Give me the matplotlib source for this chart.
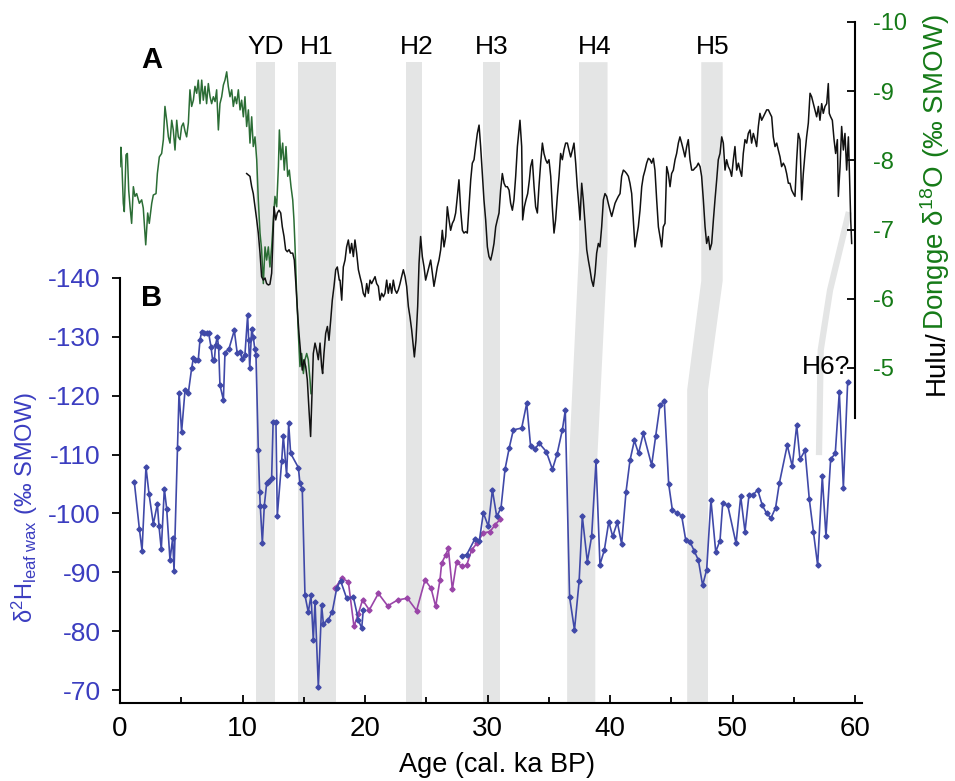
import numpy as np
import matplotlib
matplotlib.use("Agg")
import matplotlib.pyplot as plt

plt.rcParams['font.family'] = ['Liberation Sans', 'DejaVu Sans']
plt.rcParams['mathtext.fontset'] = 'custom'
plt.rcParams['mathtext.rm'] = 'Liberation Sans'
plt.rcParams['mathtext.it'] = 'Liberation Sans:italic'
plt.rcParams['mathtext.bf'] = 'Liberation Sans:bold'
plt.rcParams['axes.unicode_minus'] = False

# ================================
# DATA
# ================================
# A: Dongge cave d18O (green)
dongge_age = [0.0, 0.07, 0.14, 0.27, 0.35, 0.49, 0.6, 0.71, 0.82, 0.95, 1.09, 1.22, 1.36, 1.58, 1.77, 1.9,
              2.1, 2.26, 2.39, 2.59, 2.72, 2.94, 3.05, 3.21, 3.4, 3.54, 3.67, 3.81, 3.95, 4.08, 4.22, 4.35,
              4.49, 4.63, 4.76, 4.9, 5.03, 5.17, 5.31, 5.44, 5.58, 5.71, 5.85, 5.99, 6.12, 6.26, 6.39, 6.53,
              6.67, 6.8, 6.94, 7.07, 7.21, 7.35, 7.48, 7.62, 7.76, 7.89, 8.03, 8.16, 8.3, 8.44, 8.57, 8.71,
              8.84, 8.98, 9.12, 9.25, 9.39, 9.52, 9.66, 9.8, 9.93, 10.07, 10.2, 10.34, 10.48, 10.61, 10.75,
              10.88, 11.02, 11.16, 11.29, 11.43, 11.56, 11.7, 11.84, 11.97, 12.11, 12.24, 12.38, 12.52,
              12.65, 12.79, 12.93, 13.01, 13.14, 13.28, 13.41, 13.55, 13.69, 13.82, 13.96, 14.1, 14.2,
              14.29, 14.42, 14.56, 14.69, 14.83, 14.97, 15.1, 15.24, 15.37, 15.51, 15.59]
dongge_d18o = [-7.91, -8.19, -8.01, -7.38, -7.26, -8.08, -8.10, -7.57, -7.33, -7.09,
               -7.62, -7.48, -7.52, -7.38, -7.43, -7.31, -6.78, -7.24, -7.09, -7.38,
               -7.50, -7.52, -7.81, -8.05, -8.10, -8.30, -8.78, -8.58, -8.34, -8.25,
               -8.58, -8.44, -8.15, -8.58, -8.34, -8.30, -8.49, -8.54, -8.42, -8.34,
               -8.54, -9.02, -8.78, -8.87, -9.07, -8.97, -9.16, -8.82, -9.16, -8.87,
               -9.07, -8.82, -9.11, -8.92, -8.82, -8.92, -8.85, -9.02, -8.44, -8.82,
               -8.92, -9.09, -9.16, -9.28, -9.07, -8.92, -9.02, -8.78, -8.92, -8.82,
               -9.02, -8.73, -8.87, -8.63, -8.92, -8.49, -8.73, -8.25, -8.63, -8.20,
               -8.34, -8.01, -7.43, -6.95, -6.71, -6.22, -6.75, -6.56, -6.75, -6.46,
               -6.75, -7.14, -7.48, -7.33, -7.91, -8.44, -8.01, -8.25, -7.86, -8.20,
               -7.77, -7.86, -7.62, -7.43, -7.14, -6.75, -6.08, -5.50, -5.02, -5.21,
               -4.92, -5.12, -5.21, -5.12, -4.83, -4.63]

# A: Hulu cave d18O (black)
hulu_age = [10.34, 10.61, 10.75, 10.88, 11.02, 11.16, 11.29, 11.43, 11.56, 11.70, 11.84, 11.97, 12.11,
            12.24, 12.38, 12.46, 12.57, 12.71, 12.84, 12.98, 13.12, 13.25, 13.39, 13.52, 13.66, 13.80,
            13.93, 14.10, 14.23, 14.37, 14.48, 14.61, 14.75, 14.88, 15.02, 15.16, 15.29, 15.43, 15.56,
            15.67, 15.78, 15.92, 16.05, 16.19, 16.33, 16.46, 16.54, 16.65, 16.79, 16.93, 17.06, 17.20,
            17.33, 17.47, 17.61, 17.74, 17.90,
            17.96, 18.10, 18.23, 18.37, 18.50, 18.64, 18.78, 18.91, 19.05, 19.18, 19.32, 19.46, 19.59,
            19.73, 19.86, 20.00, 20.14, 20.27, 20.41, 20.54, 20.68, 20.82, 20.95, 21.09, 21.22, 21.36,
            21.50, 21.63, 21.77, 21.90, 22.04, 22.18, 22.31, 22.45, 22.59, 22.72, 22.86, 22.99, 23.13,
            23.27, 23.40, 23.54, 23.67, 23.81, 23.95, 24.03, 24.16, 24.30, 24.41, 24.54, 24.68, 24.82,
            24.95, 25.09, 25.22, 25.36, 25.50, 25.63, 25.77, 25.90, 26.04, 26.18, 26.31, 26.45, 26.59,
            26.72, 26.86, 26.99, 27.13, 27.27, 27.40, 27.54, 27.67, 27.81, 27.95, 28.08, 28.22, 28.35,
            28.49, 28.63, 28.76, 28.90, 29.03, 29.17, 29.31, 29.44, 29.58, 29.71, 29.85, 29.99, 30.12,
            30.26, 30.39, 30.53, 30.67, 30.80, 30.94, 31.07, 31.21, 31.35, 31.48, 31.62, 31.76, 31.89,
            32.03, 32.16, 32.30, 32.44, 32.57, 32.65, 32.79, 32.87, 33.01, 33.14, 33.28, 33.42, 33.52,
            33.66, 33.80, 33.93, 34.07, 34.20, 34.34, 34.48, 34.61, 34.75, 34.88, 35.02, 35.16, 35.29,
            35.43, 35.56, 35.70, 35.84, 35.97, 36.11, 36.24, 36.38, 36.52, 36.65, 36.79, 36.93, 37.06,
            37.20, 37.33, 37.47, 37.55, 37.69, 37.82, 37.96, 38.10, 38.23, 38.37, 38.50, 38.64, 38.78,
            38.91, 39.05, 39.18,
            39.32, 39.46, 39.59, 39.73, 39.86, 40.00, 40.14, 40.27, 40.41, 40.54, 40.68, 40.82, 40.95,
            41.09, 41.22, 41.36, 41.50, 41.63, 41.77, 41.90, 42.04, 42.18, 42.31, 42.45, 42.59, 42.72,
            42.86, 42.99, 43.13, 43.27, 43.40, 43.54, 43.67, 43.81, 43.95, 44.08, 44.22, 44.35, 44.49,
            44.63, 44.76, 44.90, 45.03, 45.17, 45.31, 45.44, 45.58, 45.71, 45.85, 45.99, 46.12, 46.26,
            46.39, 46.53, 46.67, 46.80, 46.94, 47.07, 47.21, 47.35, 47.48, 47.62, 47.76, 47.89, 48.03,
            48.16, 48.30, 48.44, 48.57, 48.71, 48.84, 48.98, 49.12, 49.25, 49.39, 49.52, 49.66, 49.80,
            49.93, 50.07, 50.20, 50.34, 50.48, 50.61, 50.75, 50.88, 51.02, 51.16, 51.29, 51.43, 51.56,
            51.70, 51.84, 51.97, 52.11, 52.24, 52.38, 52.52, 52.65, 52.79, 52.93, 53.06, 53.20, 53.33,
            53.47, 53.61, 53.74, 53.88, 54.01, 54.15, 54.29, 54.42, 54.56, 54.69, 54.83, 54.97, 55.10,
            55.24, 55.37, 55.51, 55.65, 55.78, 55.92, 56.05, 56.19, 56.33, 56.46, 56.60, 56.73, 56.87,
            57.01, 57.14, 57.28, 57.41, 57.55, 57.69, 57.82, 57.90, 58.01, 58.15, 58.29, 58.42, 58.56,
            58.64, 58.78, 58.91, 59.05, 59.18, 59.32, 59.46, 59.54, 59.65, 59.73]
hulu_d18o = [-7.81, -7.77, -7.62, -7.52, -7.33, -7.14, -6.95, -6.66, -6.32, -6.27, -6.30, -6.22, -6.20,
             -6.21, -6.37, -6.75, -7.33, -7.14, -7.24, -7.28, -7.24, -7.04, -6.90, -6.71, -6.68, -6.71,
             -6.66, -6.66, -6.56, -6.18, -5.84, -5.50, -5.21, -4.97, -5.12, -5.02, -4.83, -4.39, -4.01,
             -4.63, -5.21, -5.36, -5.26, -5.12, -5.36, -5.02, -4.92, -5.21, -5.50, -5.60, -5.40, -5.69,
             -5.98, -6.18, -6.42, -6.46, -6.27,
             -6.27, -5.98, -6.46, -6.56, -6.75, -6.85, -6.66, -6.80, -6.61, -6.85, -6.66, -6.42, -6.32,
             -6.22, -6.08, -6.03, -6.22, -6.08, -6.27, -6.22, -6.27, -6.32, -6.22, -6.18, -5.98, -6.08,
             -6.03, -6.08, -6.27, -6.08, -6.22, -6.08, -6.27, -6.13, -6.08, -6.13, -6.22, -6.32, -6.42,
             -6.32, -6.18, -5.89, -5.74, -5.55, -5.31, -5.16, -5.40, -5.89, -6.51, -6.90, -6.61, -6.46,
             -6.27, -6.37, -6.46, -6.56, -6.37, -6.18, -6.32, -6.46, -6.56, -6.71, -6.99, -6.75, -6.90,
             -7.33, -7.14, -6.99, -7.09, -7.14, -7.24, -7.48, -7.72, -7.28, -6.99, -6.95, -6.97, -6.95,
             -7.33, -7.72, -7.96, -8.01, -8.20, -8.39, -8.51, -8.20, -7.81, -7.43, -7.14, -6.75, -6.61,
             -6.56, -6.66, -6.80, -7.04, -7.14, -7.24, -7.57, -7.81, -7.67, -7.62, -7.62, -7.57, -7.38,
             -7.28, -7.43, -7.77, -8.20, -8.44, -8.58, -8.20, -7.14, -7.33, -7.43, -7.52, -7.72, -7.91,
             -8.01, -7.62, -7.33, -7.24, -7.62, -7.96, -8.25, -8.10, -8.01, -7.96, -8.01, -7.77, -7.33,
             -6.95, -7.14, -7.48, -7.77, -8.10, -8.01, -8.15, -8.25, -8.25, -8.15, -8.05, -8.15, -8.25,
             -7.96, -7.62, -7.33, -7.14, -7.67, -7.43, -7.09, -6.71, -6.56, -6.42, -6.27, -6.18, -6.37,
             -6.66, -6.80, -6.75,
             -7.04, -7.43, -7.52, -7.48, -7.38, -7.28, -7.19, -7.28, -7.38, -7.43, -7.48, -7.52, -7.77,
             -7.86, -7.84, -7.81, -7.77, -7.67, -7.52, -7.14, -6.75, -6.90, -7.04, -7.28, -7.62, -7.77,
             -7.86, -7.96, -8.03, -8.01, -7.96, -8.03, -7.86, -7.43, -7.04, -6.90, -6.75, -7.04, -7.09,
             -7.91, -7.81, -7.62, -7.81, -7.86, -8.01, -8.10, -8.25, -8.34, -8.25, -8.15, -8.05, -8.20,
             -8.30, -8.01, -7.86, -7.86, -7.89, -7.91, -7.96, -7.91, -7.77, -7.43, -7.04, -6.80, -6.90,
             -6.71, -6.80, -7.14, -7.43, -7.72, -8.01, -8.10, -8.34, -8.25, -7.86, -8.01, -7.91, -7.86,
             -7.77, -8.01, -8.20, -7.86, -7.96, -7.86, -7.77, -8.10, -8.30, -8.25, -8.39, -8.44, -8.25,
             -8.39, -8.30, -8.20, -8.49, -8.68, -8.58, -8.63, -8.68, -8.73, -8.73, -8.68, -8.63, -8.34,
             -8.20, -8.25, -8.15, -8.05, -7.91, -7.96, -7.91, -7.81, -7.67, -7.67, -7.57, -7.52, -7.48,
             -8.01, -8.39, -8.30, -7.43, -7.81, -8.10, -8.34, -8.54, -8.97, -8.92, -8.82, -8.73, -8.63,
             -8.78, -8.58, -8.82, -8.68, -8.78, -8.82, -9.11, -8.68, -8.63, -8.58, -8.30, -8.10, -8.30,
             -7.48, -7.91, -8.49, -8.15, -8.39, -7.86, -8.34, -7.86, -7.14, -6.80]

# B: leaf wax d2H, main record (blue); None = gap
wax_age = [1.17, 1.58, 1.80, 2.12, 2.37, 2.72, 3.05, 3.18, 3.37, 3.62, 3.81, 4.08, 4.30, 4.41, 4.70,
           4.82, 5.03, 5.31, 5.58, 5.85, 5.99, 6.12, 6.39, 6.53, 6.67, 6.88, 7.07, 7.23, 7.43, 7.56,
           7.70, 7.80, 7.94, 8.05, 8.16, 8.44, 8.57, 8.90, 9.33, 9.57, 9.80, 9.98, 10.20, 10.42, 10.50,
           10.59, 10.75, 10.88, 11.00, 11.10, 11.29, 11.40, 11.45, 11.62, 11.78, 11.97, 12.15, 12.38,
           12.50, 12.73, 12.84, 13.20, 13.33, 13.60, 13.77, 13.93, 14.56, 14.69, 14.88, 15.10, 15.37,
           15.59, 15.78, 15.92, 16.19, 16.46, 16.60, 17.00, 17.33, 17.69, 18.00, 18.50, 19.05, 19.46,
           19.73, 19.86, None,
           27.89, 28.30, 28.98, 29.33, 29.66, 30.07, 30.40, 30.75, 31.10, 31.43, 31.78, 32.11, 32.79,
           33.20, 33.52, 33.88, 34.23, 34.80, 35.30, 35.68, 36.11, 36.35, 36.70, 37.10, 37.48, 37.74,
           38.15, 38.50, 38.86, 39.18, 39.54, 39.90, 40.22, 40.60, 40.95, 41.31, 41.63, 41.99, 42.33,
           42.72, 43.40, 43.73, 44.08, 44.43, 44.79, 45.09, 45.50, 45.85, 46.18, 46.53, 46.88, 47.21,
           47.56, 47.89, 48.24, 48.63, 48.98, 49.20, 49.61, 50.29, 50.67, 51.02, 51.35, 51.70, 52.06,
           52.43, 52.79, 53.14, 53.52, 53.82, 54.47, 54.88, 55.24, 55.51, 55.92, 56.27, 56.60, 56.95,
           57.33, 57.63, 58.01, 58.39, 58.72, 59.05, 59.40]
wax_d2h = [-105.3, -97.4, -93.7, -107.9, -103.3, -98.2, -101.6, -97.9, -93.9, -104.2, -100.8, -92.1,
           -95.8, -90.2, -111.2, -120.5, -113.9, -121.0, -120.5, -124.7, -126.4, -126.0, -126.1, -129.5,
           -130.9, -130.7, -130.6, -130.7, -128.3, -126.1, -126.0, -128.6, -130.0, -128.3, -121.8, -119.3,
           -127.3, -128.0, -131.1, -127.2, -127.5, -126.2, -127.0, -133.7, -129.5, -124.7, -131.3, -130.0,
           -128.0, -126.9, -110.8, -103.6, -101.3, -95.0, -101.3, -105.1, -105.5, -106.1, -115.6, -115.6,
           -99.6, -108.9, -113.2, -106.5, -115.3, -110.2, -107.8, -105.1, -104.1, -86.1, -83.2, -86.1,
           -78.5, -85.0, -70.5, -84.4, -81.3, -81.9, -83.3, -87.3, -88.6, -85.6, -85.8, -81.9, -80.5,
           -83.6, None,
           -92.8, -93.0, -95.7, -95.3, -100.1, -97.8, -104.0, -99.5, -100.9, -107.5, -111.2, -114.2,
           -114.5, -118.7, -111.4, -111.0, -111.9, -110.5, -107.5, -110.1, -114.2, -117.5, -85.8, -80.2,
           -88.5, -99.5, -91.8, -96.1, -108.9, -91.3, -93.8, -98.6, -96.1, -98.5, -94.8, -103.7, -109.0,
           -112.4, -110.2, -113.6, -108.2, -113.2, -118.4, -119.1, -105.0, -100.6, -100.0, -99.6, -95.5,
           -95.2, -93.6, -92.1, -87.8, -90.4, -102.3, -93.5, -95.4, -101.7, -101.4, -94.9, -102.9, -96.9,
           -103.2, -103.2, -104.0, -101.4, -100.0, -99.2, -101.0, -105.1, -111.6, -108.0, -115.0, -109.2,
           -110.7, -102.4, -96.9, -91.2, -106.3, -96.1, -109.2, -110.2, -120.7, -104.4, -122.3]

# B: second leaf wax record (purple)
wax2_age = [17.55, 18.10, 18.64, 19.10, 19.46, 19.80, 20.35, 21.09, 21.85, 22.67, 23.46, 24.21, 24.90,
            25.39, 25.77, 26.12, 26.26, 26.58, 26.80, 27.13, 27.48, 27.89, 28.30, 28.71, 29.12, 29.66,
            30.20, 30.60, 31.02]
wax2_d2h = [-87.3, -89.0, -88.4, -80.8, -83.0, -85.3, -83.6, -86.4, -84.3, -85.3, -85.6, -83.5, -88.7,
            -87.3, -84.2, -88.7, -91.6, -92.9, -94.1, -87.1, -91.8, -91.0, -91.2, -93.8, -94.9, -96.7,
            -96.9, -98.0, -99.0]

# event bands (ka): straight ones
event_names = ["YD", "H1", "H2", "H3"]
event_start = [11.1, 14.55, 23.35, 29.6]
event_end = [12.68, 17.6, 24.65, 31.05]
# slanted ones: age range at top (A) and at bottom (B)
slant_names = ["H4", "H5"]
slant_top = [(37.47, 39.8), (47.45, 49.2)]
slant_bot = [(36.5, 38.8), (46.3, 48.0)]
label_age = [11.88, 16.05, 24.2, 30.33, 38.73, 48.38]
label_text = ["YD", "H1", "H2", "H3", "H4", "H5"]
h6_age = [59.5, 57.96, 57.2, 57.06]

# ================================
# FIGURE
# ================================
W, H = 955, 781
BLUE = "#3b3dc0"
GREEN = "#157a17"
BAND = "#e4e5e5"

fig = plt.figure(figsize=(W / 100, H / 100), dpi=100)


def box(x0, y_top, x1, y_bot):
    return [x0 / W, 1 - y_bot / H, (x1 - x0) / W, (y_bot - y_top) / H]


# background axes for the event bands (y: 0 bottom of B, 1 top of A)
axb = fig.add_axes(box(120, 22, 855, 703))
axb.set_xlim(0, 60)
axb.set_ylim(0, 1)
axb.axis("off")
axb.set_zorder(0)

band_top = 0.941
for s, e in zip(event_start, event_end):
    axb.fill_between([s, e], 0, band_top, color=BAND, lw=0)

kinks = [(0.665, 0.30), (0.62, 0.46)]
for (tl, tr), (bl, br), (k1, k2) in zip(slant_top, slant_bot, kinks):
    xs = [tl, tl, bl, bl, br, br, tr, tr]
    ys = [band_top, k1, k2, 0, 0, k2, k1, band_top]
    axb.fill(xs, ys, color=BAND, lw=0)
axb.plot(h6_age, [0.721, 0.606, 0.518, 0.364], color=BAND, lw=4.5, solid_capstyle="butt")

for a, t in zip(label_age, label_text):
    axb.text(a, 0.963, t, ha="center", va="center", fontsize=19)
axb.text(57.6, 0.493, "H6?", ha="center", va="center", fontsize=19)
axb.text(2.6, 0.944, "A", ha="center", va="center", fontsize=21, fontweight="bold")
axb.text(2.6, 0.595, "B", ha="center", va="center", fontsize=21, fontweight="bold")

# ---------------- B panel ----------------
axB = fig.add_axes(box(120, 278, 862, 703))
axB.set_zorder(1)
axB.patch.set_visible(False)
axB.set_xlim(0, (862 - 120) / 12.25)
axB.set_ylim(-140 + 425 / 5.886, -140)

wa = np.array(wax_age, dtype=float)
wd = np.array(wax_d2h, dtype=float)
axB.plot(wax2_age, wax2_d2h, color="#9a45a8", lw=1.2, marker="D", ms=2.6)
axB.plot(wa, wd, color="#4049a8", lw=1.2, marker="D", ms=2.6)

for sp in ["top", "right"]:
    axB.spines[sp].set_visible(False)
for sp in ["left", "bottom"]:
    axB.spines[sp].set_linewidth(1.5)
axB.set_xticks(np.arange(0, 61, 10))
axB.set_xticks(np.arange(5, 60, 10), minor=True)
axB.tick_params(axis="x", which="major", direction="in", length=6, width=1.3, labelsize=20, pad=9)
axB.tick_params(axis="x", which="minor", direction="in", length=4, width=1.3)
axB.set_yticks(np.arange(-140, -69, 10))
axB.tick_params(axis="y", direction="out", length=6, width=1.3, labelsize=19,
                labelcolor=BLUE, pad=8)

# ---------------- A panel ----------------
axA = fig.add_axes(box(120, 22, 855, 703))
axA.set_zorder(2)
axA.patch.set_visible(False)
axA.set_xlim(0, 60)
axA.set_ylim(-10 + 681 / 69.2, -10)
axA.plot(dongge_age, dongge_d18o, color="#2b6d35", lw=1.1)
axA.plot(hulu_age, hulu_d18o, color="#111111", lw=1.1)
for sp in ["top", "left", "bottom"]:
    axA.spines[sp].set_visible(False)
axA.spines["right"].set_linewidth(1.5)
axA.spines["right"].set_bounds(-10, -10 + 396 / 69.2)
axA.set_xticks([])
axA.yaxis.tick_right()
axA.set_yticks(np.arange(-10, -4, 1))
axA.tick_params(axis="y", direction="in", length=6, width=1.3, labelsize=17,
                labelcolor=GREEN, pad=13)

# ---------------- labels ----------------
fig.text(497 / W, 1 - 765 / H, "Age (cal. ka BP)", ha="center", va="center", fontsize=19.5)

fig.text(33 / W, 1 - 623 / H, r"δ$^{2}$H$_{\mathregular{leaf\ wax}}$ (‰ SMOW)",
         rotation=90, rotation_mode="anchor", ha="left", va="baseline",
         fontsize=17, color=BLUE)

t1 = fig.text(944 / W, 1 - 395 / H, "Hulu/", rotation=90, rotation_mode="anchor",
              ha="left", va="baseline", fontsize=20, color="black")
fig.canvas.draw()
bb = t1.get_window_extent()
fig.text(944 / W, bb.y1 / H, r"Dongge δ$^{18}$O (‰ SMOW)", rotation=90,
         rotation_mode="anchor", ha="left", va="baseline", fontsize=20, color=GREEN)

fig.savefig("out.png", dpi=100)
